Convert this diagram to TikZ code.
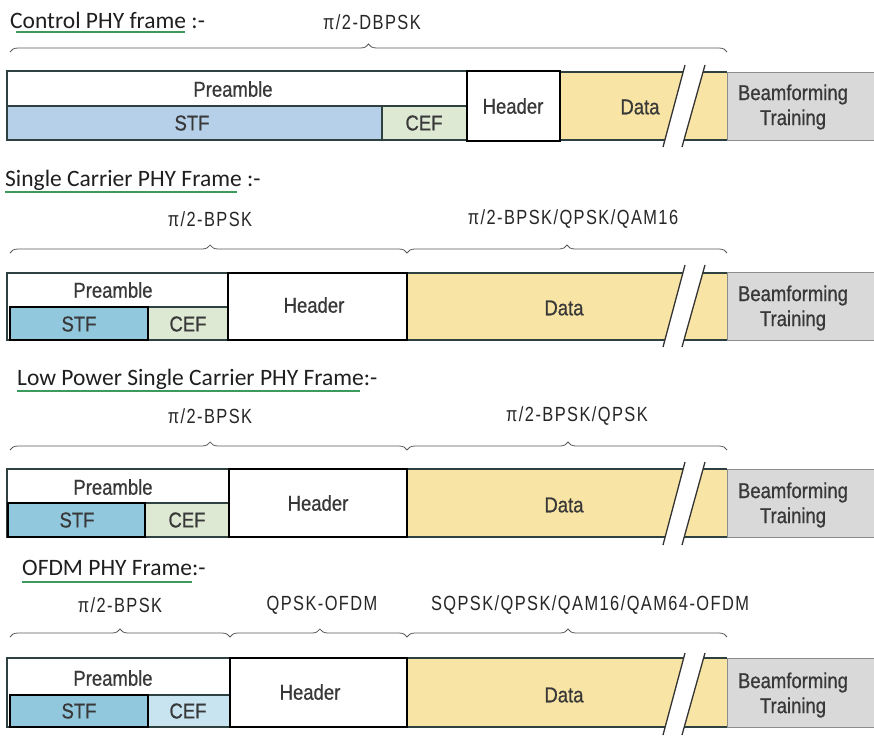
\documentclass[tikz,border=0pt]{standalone}
\usepackage{fontspec}
\usetikzlibrary{decorations.pathreplacing}
\newfontfamily\titlefont{Carlito}
\newfontfamily\labfam[FakeStretch=0.8,LetterSpace=7]{Liberation Sans}
\newfontfamily\boxfam[FakeStretch=0.86,FakeBold=0.7]{Liberation Sans}
\definecolor{edgec}{HTML}{2E4040}
\definecolor{stfA}{HTML}{B5D0E8}
\definecolor{stfB}{HTML}{92C8DE}
\definecolor{cefA}{HTML}{DDE9D3}
\definecolor{cefB}{HTML}{C8E4F1}
\definecolor{datac}{HTML}{F8E4A4}
\definecolor{beamc}{HTML}{D9D9D9}
\definecolor{ulc}{HTML}{3C9A5C}
\tikzset{
  title/.style={font=\titlefont\fontsize{23.5}{27}\selectfont, anchor=base west, text=black!88, inner sep=0},
  modlabel/.style={font=\labfam\fontsize{20.5}{24}\selectfont, text=black!85, inner sep=0},
  boxtext/.style={font=\boxfam\fontsize{21.5}{25}\selectfont, text=black!78, inner sep=0, align=center},
  thinbox/.style={draw=edgec, line width=1.2},
  thickbox/.style={draw=black, line width=2.6},
  brc/.style={decorate, decoration={brace, amplitude=8pt, aspect=#1}, draw=black!65, line width=0.8},
  brc/.default=0.5,
  uline/.style={draw=ulc, line width=2},
  slashline/.style={draw=black!80, line width=1.3}
}
% break marks across the data field
\newcommand{\breakmark}[2]{%
  \fill[white] (663,#1) -- (685,#2) -- (705,#2) -- (682,#1) -- cycle;
  \draw[slashline] (663,#1) -- (685,#2);
  \draw[slashline] (682,#1) -- (705,#2);
}
\begin{document}
\begin{tikzpicture}[x=1pt,y=-1pt]
\useasboundingbox[fill=white] (0,0) rectangle (874,737);

% ---------------- Control PHY frame ----------------
\node[title] (t1) at (10,28) {Control PHY frame :-};
\draw[uline] (16,32) -- (185,32);
\node[modlabel] (m1) at (372,22) {π/2-DBPSK};
\coordinate (b1a) at (10,52); \coordinate (b1b) at (727,52);
\draw[brc=0.5] (b1a) -- (b1b);

\fill[white] (7,71) rectangle (467,106);
\fill[stfA] (7,106) rectangle (382,140);
\fill[cefA] (382,106) rectangle (467,140);
\draw[thinbox] (7,106) -- (467,106);
\draw[thinbox] (382,106) -- (382,140);
\draw[thinbox] (7,71) rectangle (467,140);
\fill[datac] (560,72) rectangle (727,140);
\draw[thinbox] (560,72) -- (727,72) (560,140) -- (727,140);
\fill[beamc] (727,72) rectangle (874,140);
\draw[draw=black!45, line width=1] (727,72) rectangle (874,140);
\draw[thickbox, fill=white] (467,71) rectangle (560,141);
\breakmark{147}{65}
\node[boxtext] (p1) at (233,89) {Preamble};
\node[boxtext] (s1) at (192,123) {STF};
\node[boxtext] (c1) at (424,123) {CEF};
\node[boxtext] (h1) at (513,106) {Header};
\node[boxtext] (d1) at (640,107) {Data};
\node[boxtext] (bf1) at (793,107) {Beamforming\\Training};

% ---------------- Single Carrier PHY Frame ----------------
\node[title] (t2) at (5,186) {Single Carrier PHY Frame :-};
\draw[uline] (5,192) -- (237,192);
\node[modlabel] (m2a) at (210,219) {π/2-BPSK};
\node[modlabel] (m2b) at (573,219) {π/2-BPSK/QPSK/QAM16};
\coordinate (b2a) at (10,253); \coordinate (b2b) at (407,253); \coordinate (b2c) at (727,253);
\draw[brc=0.504] (b2a) -- (b2b);
\draw[brc=0.5] (b2b) -- (b2c);

\fill[white] (7,273) rectangle (228,307);
\fill[cefA] (148,307) rectangle (228,340);
\draw[thinbox] (7,273) rectangle (228,340);
\draw[thinbox] (148,307) -- (228,307);
\draw[thickbox, fill=stfB] (10,307) rectangle (148,340);
\fill[datac] (407,273) rectangle (727,340);
\draw[thinbox] (407,273) -- (727,273) (407,340) -- (727,340);
\fill[beamc] (727,272) rectangle (874,340);
\draw[draw=black!45, line width=1] (727,272) rectangle (874,340);
\draw[thickbox, fill=white] (228,273) rectangle (407,340);
\breakmark{347}{265}
\node[boxtext] (p2) at (113,290) {Preamble};
\node[boxtext] (s2) at (79,324) {STF};
\node[boxtext] (c2) at (188,324) {CEF};
\node[boxtext] (h2) at (314,305) {Header};
\node[boxtext] (d2) at (564,308) {Data};
\node[boxtext] (bf2) at (793,308) {Beamforming\\Training};

% ---------------- Low Power Single Carrier PHY Frame ----------------
\node[title] (t3) at (17,385) {Low Power Single Carrier PHY Frame:-};
\draw[uline] (17,391) -- (360,391);
\node[modlabel] (m3a) at (210,416) {π/2-BPSK};
\node[modlabel] (m3b) at (577,416) {π/2-BPSK/QPSK};
\coordinate (b3a) at (10,450); \coordinate (b3b) at (407,450); \coordinate (b3c) at (727,450);
\draw[brc=0.504] (b3a) -- (b3b);
\draw[brc=0.503] (b3b) -- (b3c);

\fill[white] (7,469) rectangle (229,503);
\fill[cefA] (145,503) rectangle (229,537);
\draw[thinbox] (7,469) rectangle (229,537);
\draw[thinbox] (145,503) -- (229,503);
\draw[thickbox, fill=stfB] (8,503) rectangle (145,537);
\fill[datac] (407,469) rectangle (727,537);
\draw[thinbox] (407,469) -- (727,469) (407,537) -- (727,537);
\fill[beamc] (727,469) rectangle (874,537);
\draw[draw=black!45, line width=1] (727,469) rectangle (874,537);
\draw[thickbox, fill=white] (229,469) rectangle (407,537);
\breakmark{545}{462}
\node[boxtext] (p3) at (113,487) {Preamble};
\node[boxtext] (s3) at (77,520) {STF};
\node[boxtext] (c3) at (187,520) {CEF};
\node[boxtext] (h3) at (318,503) {Header};
\node[boxtext] (d3) at (564,505) {Data};
\node[boxtext] (bf3) at (793,505) {Beamforming\\Training};

% ---------------- OFDM PHY Frame ----------------
\node[title] (t4) at (22,575) {OFDM PHY Frame:-};
\draw[uline] (22,582) -- (192,582);
\node[modlabel] (m4a) at (120,605) {π/2-BPSK};
\node[modlabel] (m4b) at (322,605) {QPSK-OFDM};
\node[modlabel] (m4c) at (590,605) {SQPSK/QPSK/QAM16/QAM64-OFDM};
\coordinate (b4a) at (10,637); \coordinate (b4b) at (230,637);
\coordinate (b4c) at (407,637); \coordinate (b4d) at (727,637);
\draw[brc=0.5] (b4a) -- (b4b);
\draw[brc=0.508] (b4b) -- (b4c);
\draw[brc=0.503] (b4c) -- (b4d);

\fill[white] (7,658) rectangle (230,695);
\fill[cefB] (148,695) rectangle (230,727);
\draw[thinbox] (7,658) rectangle (230,727);
\draw[thinbox] (148,695) -- (230,695);
\draw[thickbox, fill=stfB] (10,695) rectangle (148,727);
\fill[datac] (407,658) rectangle (727,727);
\draw[thinbox] (407,658) -- (727,658) (407,727) -- (727,727);
\fill[beamc] (727,658) rectangle (874,727);
\draw[draw=black!45, line width=1] (727,658) rectangle (874,727);
\draw[thickbox, fill=white] (230,658) rectangle (407,727);
\breakmark{735}{653}
\node[boxtext] (p4) at (113,678) {Preamble};
\node[boxtext] (s4) at (79,711) {STF};
\node[boxtext] (c4) at (188,711) {CEF};
\node[boxtext] (h4) at (310,692) {Header};
\node[boxtext] (d4) at (564,695) {Data};
\node[boxtext] (bf4) at (793,695) {Beamforming\\Training};
\end{tikzpicture}
\end{document}
